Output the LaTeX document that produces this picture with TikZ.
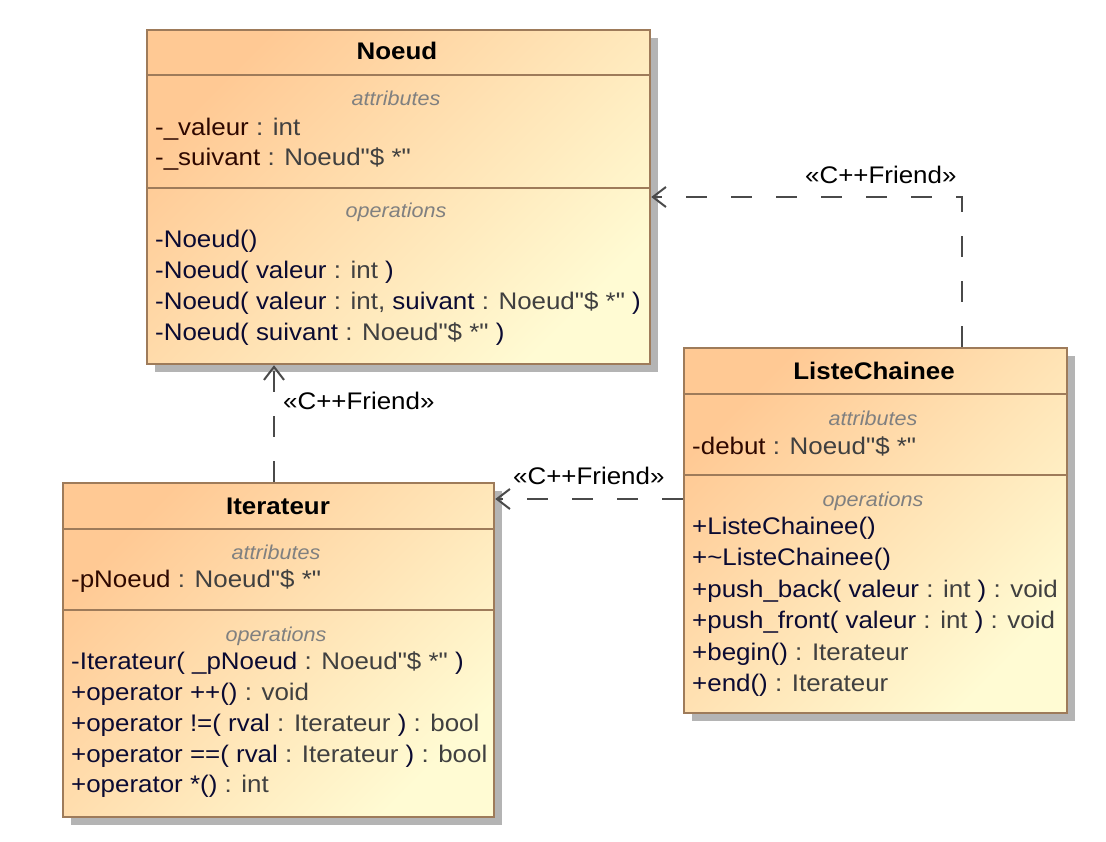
\documentclass[tikz,border=0pt]{standalone}
\usepackage{fontspec}
\setmainfont{Liberation Sans}[FakeStretch=1.08, Ligatures=TeXOff]
\usetikzlibrary{arrows.meta,shadows}
\definecolor{boxA}{HTML}{FFC994}
\definecolor{boxB}{HTML}{FFFBD3}
\definecolor{boxline}{HTML}{9E7B5A}
\definecolor{shadowgray}{HTML}{B4B4B4}
\definecolor{attrname}{HTML}{2E0800}
\definecolor{typecol}{HTML}{404040}
\definecolor{opcol}{HTML}{0A0A32}
\definecolor{sectcol}{HTML}{808080}
\definecolor{depcol}{HTML}{4A4A4A}
\newcommand\myA[1]{\textcolor{attrname}{#1}}
\newcommand\myT[1]{\textcolor{typecol}{#1}}
\newcommand\myO[1]{\textcolor{opcol}{#1}}
\tikzset{
  classbox/.style={draw=boxline, line width=2.5pt, inner sep=0pt,
    top color=boxA, bottom color=boxB, shading angle=45,
    drop shadow={fill=shadowgray, opacity=1, shadow xshift=8pt, shadow yshift=-8pt}},
  sepline/.style={draw=boxline, line width=2pt},
  txt/.style={anchor=base west, inner sep=0pt, font=\fontsize{24}{31}\selectfont},
  ttl/.style={anchor=base, inner sep=0pt, font=\fontsize{24}{31}\selectfont\bfseries},
  sect/.style={anchor=base, inner sep=0pt, text=sectcol, font=\fontsize{20}{24}\selectfont\itshape},
  dep/.style={draw=depcol, line width=2pt, dash pattern=on 21pt off 24pt,
    -{Straight Barb[length=13pt,width=20pt,line width=2pt]}},
  deplabel/.style={anchor=base west, inner sep=0pt, font=\fontsize{24}{31}\selectfont},
}
\begin{document}
\begin{tikzpicture}[x=1pt,y=-1pt]
\useasboundingbox (0,0) rectangle (1106,842);

% ---------- Noeud ----------
\node[classbox, minimum width=503pt, minimum height=334pt] (noeud) at (398.5,197) {};
\draw[sepline] (noeud.west |- 0,75) -- (noeud.east |- 0,75);
\draw[sepline] (noeud.west |- 0,188) -- (noeud.east |- 0,188);
\node[ttl] (noeudT) at (397,60) {Noeud};
\node[sect] (noeudAt) at (396,106) {attributes};
\node[txt] (noeudA1) at (155,136) {\myA{-\_valeur} \myT{: int}};
\node[txt] (noeudA2) at (155,166) {\myA{-\_suivant} \myT{: Noeud"\$ *"}};
\node[sect] (noeudOp) at (396,218) {operations};
\node[txt] (noeudO1) at (155,248) {\myO{-Noeud()}};
\node[txt] (noeudO2) at (155,279) {\myO{-Noeud( valeur} \myT{: int} \myO{)}};
\node[txt] (noeudO3) at (155,310) {\myO{-Noeud( valeur} \myT{: int,} \myO{suivant} \myT{: Noeud"\$ *"} \myO{)}};
\node[txt] (noeudO4) at (155,341) {\myO{-Noeud( suivant} \myT{: Noeud"\$ *"} \myO{)}};

% ---------- ListeChainee ----------
\node[classbox, minimum width=383pt, minimum height=365pt] (liste) at (875.5,530.5) {};
\draw[sepline] (liste.west |- 0,394) -- (liste.east |- 0,394);
\draw[sepline] (liste.west |- 0,475) -- (liste.east |- 0,475);
\node[ttl] (listeT) at (874,380) {ListeChainee};
\node[sect] (listeAt) at (873,425) {attributes};
\node[txt] (listeA1) at (692,454) {\myA{-debut} \myT{: Noeud"\$ *"}};
\node[sect] (listeOp) at (873,506) {operations};
\node[txt] (listeO1) at (692,534) {\myO{+ListeChainee()}};
\node[txt] (listeO2) at (692,565) {\myO{+\textasciitilde ListeChainee()}};
\node[txt] (listeO3) at (692,597) {\myO{+push\_back( valeur} \myT{: int} \myO{)} \myT{: void}};
\node[txt] (listeO4) at (692,628) {\myO{+push\_front( valeur} \myT{: int} \myO{)} \myT{: void}};
\node[txt] (listeO5) at (692,660) {\myO{+begin()} \myT{: Iterateur}};
\node[txt] (listeO6) at (692,691) {\myO{+end()} \myT{: Iterateur}};

% ---------- Iterateur ----------
\node[classbox, minimum width=431pt, minimum height=334pt] (iter) at (278.5,650) {};
\draw[sepline] (iter.west |- 0,529) -- (iter.east |- 0,529);
\draw[sepline] (iter.west |- 0,610) -- (iter.east |- 0,610);
\node[ttl] (iterT) at (278,514) {Iterateur};
\node[sect] (iterAt) at (276,559) {attributes};
\node[txt] (iterA1) at (71,587) {\myA{-pNoeud} \myT{: Noeud"\$ *"}};
\node[sect] (iterOp) at (276,641) {operations};
\node[txt] (iterO1) at (71,669) {\myO{-Iterateur( \_pNoeud} \myT{: Noeud"\$ *"} \myO{)}};
\node[txt] (iterO2) at (71,700) {\myO{+operator ++()} \myT{: void}};
\node[txt] (iterO3) at (71,731) {\myO{+operator !=( rval} \myT{: Iterateur} \myO{)} \myT{: bool}};
\node[txt] (iterO4) at (71,762) {\myO{+operator ==( rval} \myT{: Iterateur} \myO{)} \myT{: bool}};
\node[txt] (iterO5) at (71,792) {\myO{+operator *()} \myT{: int}};

% ---------- Dependencies ----------
\coordinate (c1) at (962,197);
\coordinate (c2) at (274,420);
\coordinate (c3) at (590,499);
\draw[dep] (c1 |- liste.north) -- (c1) -- (c1 -| noeud.east);
\draw[dep] (c2 |- iter.north) -- (c2 |- noeud.south);
\draw[dep] (c3 -| liste.west) -- (c3 -| iter.east);
\node[deplabel] (lab1) at (805,184) {«C++Friend»};
\node[deplabel] (lab2) at (283,409) {«C++Friend»};
\node[deplabel] (lab3) at (513,484) {«C++Friend»};
\end{tikzpicture}
\end{document}
